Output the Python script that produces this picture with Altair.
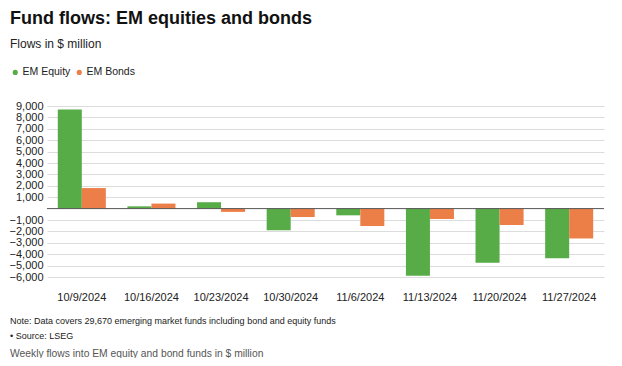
import altair as alt
import pandas as pd

dates = ["10/9/2024", "10/16/2024", "10/23/2024", "10/30/2024",
         "11/6/2024", "11/13/2024", "11/20/2024", "11/27/2024"]
equity = [8700, 200, 560, -1900, -590, -5880, -4760, -4350]
bonds = [1800, 440, -290, -740, -1530, -910, -1440, -2620]
series = ["EM Equity", "EM Bonds"]
colors = ["#57ac47", "#ec7f48"]
y_ticks = [-6000, -5000, -4000, -3000, -2000, -1000,
           1000, 2000, 3000, 4000, 5000, 6000, 7000, 8000, 9000]

title = "Fund flows: EM equities and bonds"
subtitle = "Flows in $ million"
note = "Note: Data covers 29,670 emerging market funds including bond and equity funds"
source = "• Source: LSEG"
caption = "Weekly flows into EM equity and bond funds in $ million"

rows = []
for d, e, b in zip(dates, equity, bonds):
    rows.append({"date": d, "series": series[0], "value": e})
    rows.append({"date": d, "series": series[1], "value": b})
df = pd.DataFrame(rows)

FONT = "Liberation Sans"

y_scale = alt.Scale(domain=[-6000, 9000], nice=False, zero=False)
y_axis = alt.Axis(values=y_ticks, format=",.0f", ticks=False, domain=False,
                  labelOverlap=False, title=None,
                  gridColor="#dcdcdc", labelPadding=4, labelFontSize=11,
                  labelColor="#222", labelFont=FONT)

bars = alt.Chart(df).mark_bar().encode(
    x=alt.X("date:N", sort=dates, title=None,
            scale=alt.Scale(paddingInner=0.31, paddingOuter=0.155),
            axis=alt.Axis(labelAngle=0, ticks=False, domain=False, grid=False,
                          labelPadding=14, labelFontSize=11, labelColor="#222",
                          labelFont=FONT)),
    xOffset=alt.XOffset("series:N", sort=series),
    y=alt.Y("value:Q", title=None, scale=y_scale, axis=y_axis),
    color=alt.Color("series:N", sort=series,
                    scale=alt.Scale(domain=series, range=colors),
                    legend=alt.Legend(orient="none", legendX=-37, legendY=-39,
                                      direction="horizontal", title=None,
                                      symbolType="circle", symbolSize=26,
                                      labelFontSize=10.5, labelColor="#222",
                                      labelFont=FONT, columnPadding=3,
                                      symbolOffset=0, labelOffset=2)),
)

zero = alt.Chart(pd.DataFrame({"value": [0]})).mark_rule(color="#555", strokeWidth=1).encode(
    y=alt.Y("value:Q", title=None, scale=y_scale, axis=y_axis))


def txt(s, x, y, size, weight="normal", color="#222"):
    return alt.Chart(pd.DataFrame({"t": [s]})).mark_text(
        align="left", baseline="alphabetic", fontSize=size, fontWeight=weight,
        color=color, font=FONT
    ).encode(text="t:N", x=alt.value(x), y=alt.value(y))


texts = [
    txt(title, -37, -82, 18, "bold", "#111"),
    txt(subtitle, -37, -58, 12),
    txt(note, -37, 218, 9),
    txt(source, -37, 233, 9),
    txt(caption, -37, 251, 10.3, color="#555"),
]

chart = alt.layer(bars, zero, *texts).properties(
    width=557, height=171,
    autosize=alt.AutoSizeParams(type="none"),
    padding={"left": 39, "top": 98, "right": 10, "bottom": 81},
).configure(background="white", view=alt.ViewConfig(stroke=None))

chart.save("out.html", embed_options={"renderer": "svg", "actions": False})
